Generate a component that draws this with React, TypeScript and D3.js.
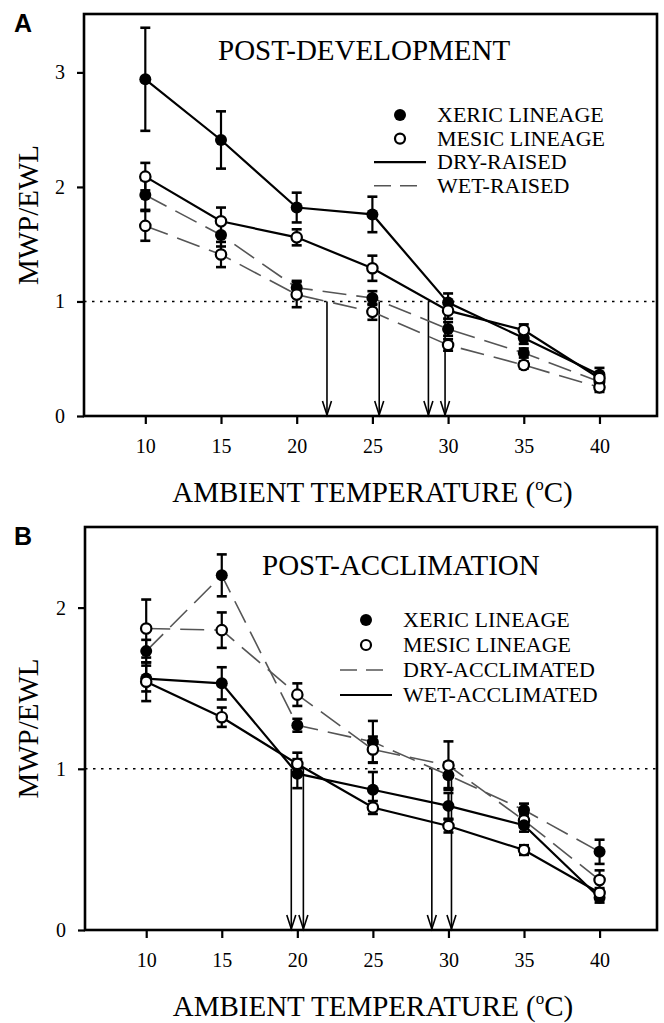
import React, { useRef, useEffect } from "react";
import * as d3 from "d3";

// temperatures (°C) shared by both panels
const temps = [10, 15, 20, 25, 30, 35, 40];
const xTicks = [10, 15, 20, 25, 30, 35, 40];

// panel A: post-development
const aXericDry = [2.94, 2.41, 1.82, 1.76, 0.99, 0.68, 0.36];
const aXericDryErr = [0.45, 0.25, 0.13, 0.155, 0.08, 0.05, 0.06];
const aMesicDry = [2.09, 1.7, 1.56, 1.29, 0.92, 0.75, 0.33];
const aMesicDryErr = [0.12, 0.12, 0.07, 0.11, 0.07, 0.05, 0.04];
const aXericWet = [1.93, 1.58, 1.12, 1.03, 0.76, 0.55, 0.3];
const aXericWetErr = [0.13, 0.1, 0.06, 0.06, 0.06, 0.04, 0.04];
const aMesicWet = [1.66, 1.41, 1.06, 0.91, 0.62, 0.445, 0.25];
const aMesicWetErr = [0.13, 0.11, 0.11, 0.07, 0.05, 0.03, 0.04];
const aArrows = [22.0, 25.45, 28.7, 29.8];
const aYTicks = [0, 1, 2, 3];
const aLegend = ["XERIC LINEAGE", "MESIC LINEAGE", "DRY-RAISED", "WET-RAISED"];

// panel B: post-acclimation
const bXericDry = [1.73, 2.2, 1.27, 1.167, 0.96, 0.744, 0.485];
const bXericDryErr = [0.07, 0.13, 0.04, 0.13, 0.08, 0.04, 0.075];
const bMesicDry = [1.87, 1.86, 1.46, 1.12, 1.02, 0.68, 0.31];
const bMesicDryErr = [0.18, 0.11, 0.07, 0.08, 0.15, 0.04, 0.06];
const bXericWet = [1.56, 1.53, 0.97, 0.87, 0.77, 0.65, 0.2];
const bXericWetErr = [0.08, 0.1, 0.09, 0.11, 0.08, 0.04, 0.03];
const bMesicWet = [1.54, 1.32, 1.03, 0.76, 0.645, 0.496, 0.23];
const bMesicWetErr = [0.12, 0.06, 0.07, 0.04, 0.04, 0.03, 0.03];
const bArrows = [19.6, 20.4, 28.9, 30.2];
const bYTicks = [0, 1, 2];
const bLegend = ["XERIC LINEAGE", "MESIC LINEAGE", "DRY-ACCLIMATED", "WET-ACCLIMATED"];

const serif = "'Liberation Serif', 'Times New Roman', serif";
const DASH = "24 10";
const GREY = "#555";

const drawPanel = (root: any, p: any) => {
    const g = root.append("g");
    const x = d3.scaleLinear().domain([5.95, 43.8]).range([p.left, p.right]);
    const y = d3.scaleLinear().domain([0, p.yMax]).range([p.bottom, p.top]);

    // axes (frame is drawn separately)
    const xAxis = g.append("g")
        .attr("transform", `translate(0,${p.bottom})`)
        .call(d3.axisBottom(x).tickValues(xTicks).tickSize(8).tickPadding(15));
    const yAxis = g.append("g")
        .attr("transform", `translate(${p.left},0)`)
        .call(d3.axisLeft(y).tickValues(p.yTicks).tickSize(7).tickPadding(12).tickFormat(d3.format("d")));
    [xAxis, yAxis].forEach(a => {
        a.attr("font-family", serif).attr("font-size", 20);
        a.select(".domain").remove();
        a.selectAll("line").attr("stroke-width", 2.2);
        a.selectAll("text").attr("fill", "#000");
    });

    g.append("rect")
        .attr("x", p.left).attr("y", p.top)
        .attr("width", p.right - p.left).attr("height", p.bottom - p.top)
        .attr("fill", "none").attr("stroke", "#000").attr("stroke-width", 2.6);

    // reference line at 1
    g.append("line")
        .attr("x1", p.left).attr("x2", p.right)
        .attr("y1", y(1)).attr("y2", y(1))
        .attr("stroke", "#000").attr("stroke-width", 1.5)
        .attr("stroke-dasharray", "2.5 5.5");

    // arrows down to the axis
    p.arrows.forEach((t: number) => {
        const ax = x(t);
        g.append("line")
            .attr("x1", ax).attr("x2", ax).attr("y1", y(1)).attr("y2", y(0) - 1)
            .attr("stroke", "#000").attr("stroke-width", 1.6);
        g.append("path")
            .attr("d", `M${ax - 4.5},${y(0) - 15}L${ax},${y(0) - 1}L${ax + 4.5},${y(0) - 15}`)
            .attr("fill", "none").attr("stroke", "#000").attr("stroke-width", 1.6);
    });

    const line = d3.line<number>().x((d, i) => x(temps[i])).y(d => y(d));

    p.series.forEach((s: any) => {
        g.append("path")
            .datum(s.values)
            .attr("d", line)
            .attr("fill", "none")
            .attr("stroke", s.dashed ? GREY : "#000")
            .attr("stroke-width", s.dashed ? 1.6 : 2.2)
            .attr("stroke-dasharray", s.dashed ? DASH : null);
    });

    p.series.forEach((s: any) => {
        s.values.forEach((v: number, i: number) => {
            const cx = x(temps[i]);
            const e = s.err[i];
            g.append("line")
                .attr("x1", cx).attr("x2", cx).attr("y1", y(v + e)).attr("y2", y(v - e))
                .attr("stroke", "#000").attr("stroke-width", 2.2);
            [v + e, v - e].forEach(c => {
                g.append("line")
                    .attr("x1", cx - 5).attr("x2", cx + 5).attr("y1", y(c)).attr("y2", y(c))
                    .attr("stroke", "#000").attr("stroke-width", 2.6);
            });
        });
    });

    p.series.forEach((s: any) => {
        g.selectAll(null)
            .data(s.values)
            .enter()
            .append("circle")
            .attr("cx", (d: number, i: number) => x(temps[i]))
            .attr("cy", (d: number) => y(d))
            .attr("r", s.open ? 5.2 : 6)
            .attr("fill", s.open ? "#fff" : "#000")
            .attr("stroke", "#000")
            .attr("stroke-width", s.open ? 2.2 : 0);
    });

    // titles
    g.append("text")
        .attr("x", p.titleX).attr("y", p.titleY)
        .attr("font-family", serif).attr("font-size", 29)
        .text(p.title);

    g.append("text")
        .attr("transform", `translate(38,${(p.top + p.bottom) / 2}) rotate(-90)`)
        .attr("text-anchor", "middle")
        .attr("font-family", serif).attr("font-size", 29)
        .text("MWP/EWL");

    const xt = g.append("text")
        .attr("x", (p.left + p.right) / 2 + 2).attr("y", p.bottom + 86)
        .attr("text-anchor", "middle")
        .attr("font-family", serif).attr("font-size", 29);
    xt.append("tspan").text("AMBIENT TEMPERATURE (");
    xt.append("tspan").attr("font-size", 17).attr("dy", -12).text("o");
    xt.append("tspan").attr("dy", 12).text("C)");

    g.append("text")
        .attr("x", 14).attr("y", p.top + 18)
        .attr("font-family", "'Liberation Sans', Arial, sans-serif")
        .attr("font-weight", "bold").attr("font-size", 25)
        .text(p.letter);

    // legend
    const lg = g.append("g");
    p.legend.forEach((label: string, i: number) => {
        const ly = p.legY + i * p.legStep;
        lg.append("text")
            .attr("x", p.legX).attr("y", ly)
            .attr("font-family", serif).attr("font-size", 22)
            .text(label);
        const my = ly - 7;
        const cx = p.legX - 37;
        const kind = p.legendKinds[i];
        if (kind === "filled" || kind === "open") {
            lg.append("circle")
                .attr("cx", cx).attr("cy", my)
                .attr("r", kind === "open" ? 5 : 6)
                .attr("fill", kind === "open" ? "#fff" : "#000")
                .attr("stroke", "#000").attr("stroke-width", kind === "open" ? 2.2 : 0);
        } else {
            lg.append("line")
                .attr("x1", cx - 26).attr("x2", cx + 26).attr("y1", my).attr("y2", my)
                .attr("stroke", kind === "dashed" ? GREY : "#000")
                .attr("stroke-width", kind === "dashed" ? 1.6 : 2.2)
                .attr("stroke-dasharray", kind === "dashed" ? "17 9" : null);
        }
    });
};

const App = () => {
    const ref = useRef<SVGSVGElement | null>(null);

    useEffect(() => {
        if (!ref.current) return;
        const svg = d3.select(ref.current);
        svg.selectAll("*").remove();

        drawPanel(svg, {
            left: 84, right: 657, top: 14, bottom: 416, yMax: 3.51,
            yTicks: aYTicks, arrows: aArrows, letter: "A",
            title: "POST-DEVELOPMENT", titleX: 218, titleY: 60,
            legend: aLegend, legendKinds: ["filled", "open", "solid", "dashed"],
            legX: 437, legY: 122, legStep: 23.6,
            series: [
                { values: aXericWet, err: aXericWetErr, dashed: true, open: false },
                { values: aMesicWet, err: aMesicWetErr, dashed: true, open: true },
                { values: aXericDry, err: aXericDryErr, dashed: false, open: false },
                { values: aMesicDry, err: aMesicDryErr, dashed: false, open: true },
            ],
        });

        drawPanel(svg, {
            left: 85, right: 657, top: 527, bottom: 930, yMax: 2.5,
            yTicks: bYTicks, arrows: bArrows, letter: "B",
            title: "POST-ACCLIMATION", titleX: 262, titleY: 575,
            legend: bLegend, legendKinds: ["filled", "open", "dashed", "solid"],
            legX: 403, legY: 627, legStep: 25,
            series: [
                { values: bXericDry, err: bXericDryErr, dashed: true, open: false },
                { values: bMesicDry, err: bMesicDryErr, dashed: true, open: true },
                { values: bXericWet, err: bXericWetErr, dashed: false, open: false },
                { values: bMesicWet, err: bMesicWetErr, dashed: false, open: true },
            ],
        });
    }, []);

    return (
        <svg
            ref={ref}
            width={664}
            height={1023}
            style={{ position: "absolute", left: 0, top: 0, background: "#fff" }}
        />
    );
};

export default App;
